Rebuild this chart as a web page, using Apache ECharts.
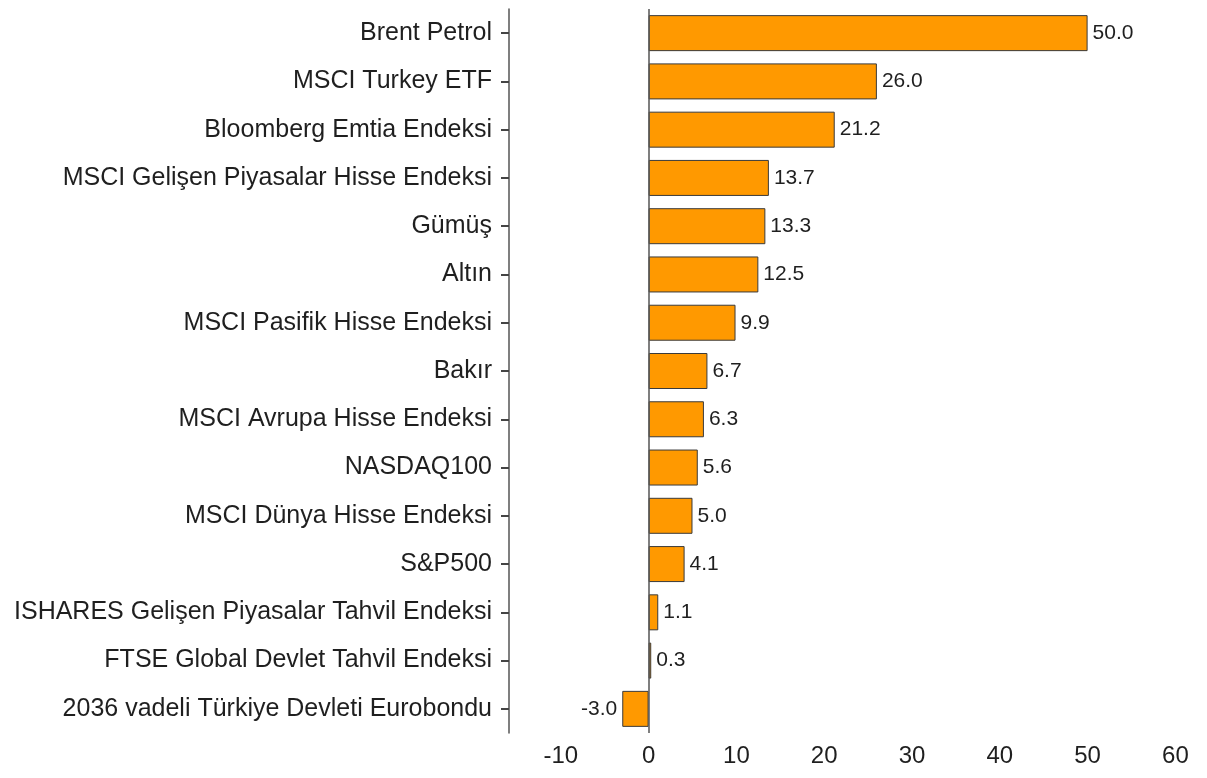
<!DOCTYPE html>
<html>
<head>
<meta charset="utf-8">
<script src="https://cdn.jsdelivr.net/npm/echarts@6/dist/echarts.min.js"></script>
<style>
html,body{margin:0;padding:0;background:#fff;}
#chart{width:1207px;height:778px;}
</style>
</head>
<body>
<div id="chart"></div>
<script>
const categories = [
  "Brent Petrol",
  "MSCI Turkey ETF",
  "Bloomberg Emtia Endeksi",
  "MSCI Gelişen Piyasalar Hisse Endeksi",
  "Gümüş",
  "Altın",
  "MSCI Pasifik Hisse Endeksi",
  "Bakır",
  "MSCI Avrupa Hisse Endeksi",
  "NASDAQ100",
  "MSCI Dünya Hisse Endeksi",
  "S&P500",
  "ISHARES Gelişen Piyasalar Tahvil Endeksi",
  "FTSE Global Devlet Tahvil Endeksi",
  "2036 vadeli Türkiye Devleti Eurobondu"
];
const values = [50.0, 26.0, 21.2, 13.7, 13.3, 12.5, 9.9, 6.7, 6.3, 5.6, 5.0, 4.1, 1.1, 0.3, -3.0];
const xTicks = [-10, 0, 10, 20, 30, 40, 50, 60];

const chart = echarts.init(document.getElementById('chart'), null, {renderer: 'canvas'});
const font = "'Liberation Sans', Arial, sans-serif";
chart.setOption({
  animation: false,
  backgroundColor: '#ffffff',
  grid: {left: 509, right: 0, top: 9, height: 724, containLabel: false},
  xAxis: {
    type: 'value',
    min: -15.9,
    max: 63.6,
    axisLine: {show: false},
    axisTick: {show: false},
    splitLine: {show: false},
    axisLabel: {
      customValues: xTicks,
      margin: 11,
      fontSize: 24,
      fontFamily: font,
      color: '#1f1f1f'
    }
  },
  yAxis: {
    type: 'category',
    inverse: true,
    data: categories,
    axisLine: {show: true, onZero: false, lineStyle: {color: '#555', width: 1.5}},
    axisTick: {show: true, alignWithLabel: true, length: 8, lineStyle: {color: '#444', width: 2}},
    axisLabel: {
      margin: 17,
      fontSize: 25,
      fontFamily: font,
      color: '#1f1f1f'
    }
  },
  series: [{
    type: 'bar',
    data: values.map(v => ({
      value: v,
      label: {position: v < 0 ? 'left' : 'right'}
    })),
    barWidth: 36,
    itemStyle: {color: '#FF9900', borderColor: '#3a3a3a', borderWidth: 1},
    label: {
      show: true,
      distance: 5,
      fontSize: 21,
      fontFamily: font,
      color: '#1f1f1f',
      formatter: p => p.value.toFixed(1)
    },
    markLine: {
      silent: true,
      symbol: 'none',
      label: {show: false},
      lineStyle: {color: '#555', width: 1.5, type: 'solid'},
      data: [{xAxis: 0}]
    }
  }]
});
</script>
</body>
</html>
